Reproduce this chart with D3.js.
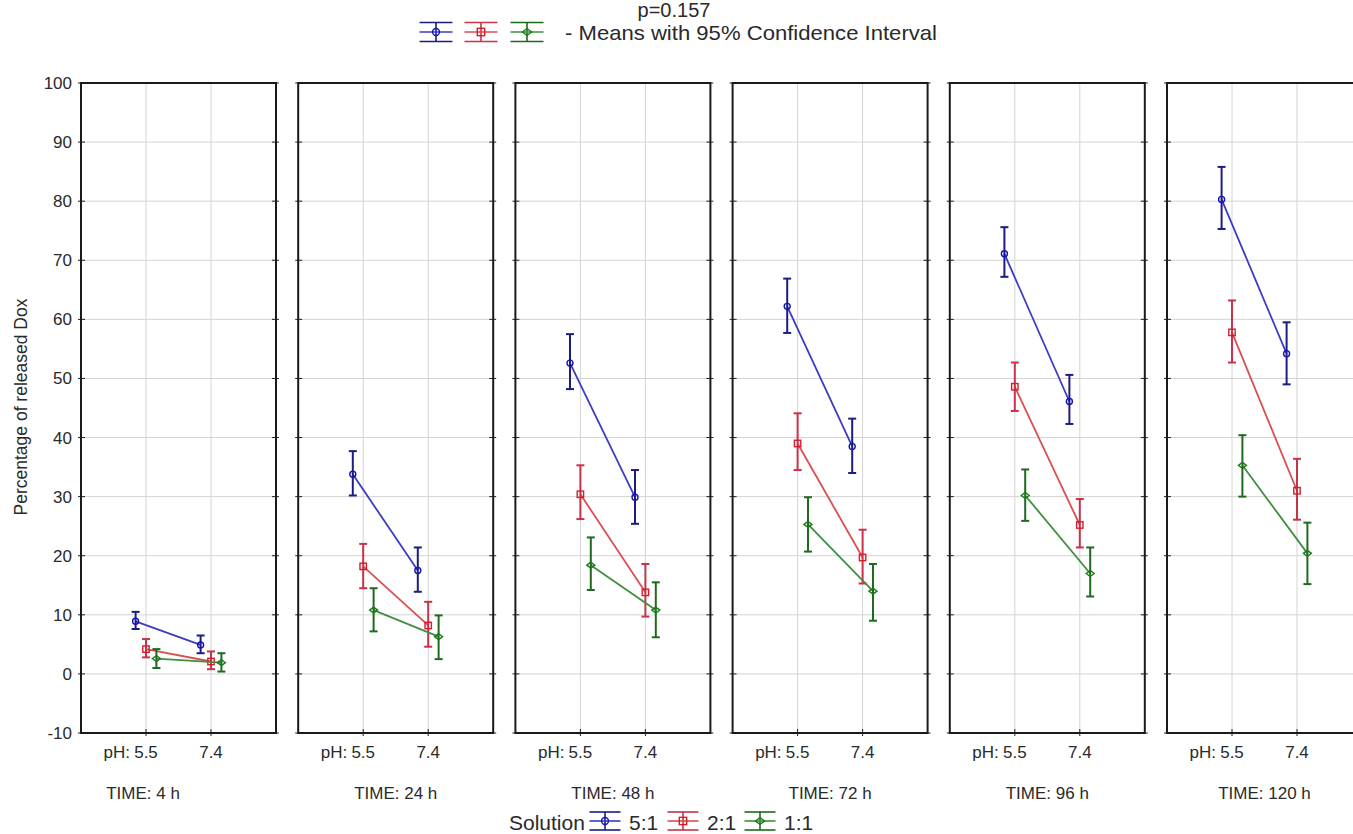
<!DOCTYPE html>
<html>
<head>
<meta charset="utf-8">
<script src="https://cdn.jsdelivr.net/npm/d3@7"></script>
<style>
  body { margin: 0; background: #fff; }
  svg { display: block; font-family: "Liberation Sans", Arial, sans-serif; }
</style>
</head>
<body>
<svg id="chart" width="1353" height="834"></svg>
<script>
// data
var times = ["4 h", "24 h", "48 h", "72 h", "96 h", "120 h"];
var phLevels = ["5.5", "7.4"];
var solutions = ["5:1", "2:1", "1:1"];
var yTicks = [-10, 0, 10, 20, 30, 40, 50, 60, 70, 80, 90, 100];

// [pH 5.5, pH 7.4] for each time
var mean51  = [[8.9, 4.9], [33.8, 17.5], [52.6, 29.9], [62.2, 38.5], [71.1, 46.1], [80.3, 54.2]];
var lower51 = [[7.6, 3.5], [30.2, 13.9], [48.2, 25.4], [57.7, 34.0], [67.2, 42.3], [75.3, 49.0]];
var upper51 = [[10.5, 6.5], [37.7, 21.4], [57.5, 34.5], [66.9, 43.2], [75.6, 50.6], [85.8, 59.5]];

var mean21  = [[4.2, 2.1], [18.2, 8.2], [30.4, 13.8], [39.0, 19.7], [48.6, 25.2], [57.8, 31.0]];
var lower21 = [[2.8, 0.8], [14.5, 4.6], [26.2, 9.7], [34.5, 15.3], [44.5, 21.4], [52.7, 26.1]];
var upper21 = [[5.9, 3.8], [22.0, 12.2], [35.3, 18.6], [44.1, 24.4], [52.7, 29.6], [63.2, 36.4]];

var mean11  = [[2.6, 1.9], [10.8, 6.3], [18.4, 10.8], [25.3, 14.0], [30.2, 17.0], [35.3, 20.4]];
var lower11 = [[1.0, 0.4], [7.2, 2.5], [14.2, 6.2], [20.7, 9.0], [25.9, 13.1], [30.0, 15.2]];
var upper11 = [[4.2, 3.5], [14.5, 9.9], [23.1, 15.5], [29.9, 18.6], [34.6, 21.4], [40.4, 25.6]];

var seriesData = [
  { name: solutions[0], mean: mean51, lo: lower51, hi: upper51 },
  { name: solutions[1], mean: mean21, lo: lower21, hi: upper21 },
  { name: solutions[2], mean: mean11, lo: lower11, hi: upper11 }
];

// styling
var lineColor = ["#3c3cc0", "#d85050", "#3f8f3f"];
var barColor  = ["#1c1c84", "#c8324a", "#1f6a1f"];
var markerColor = ["#1515b0", "#d81c2c", "#1a7a1a"];
var offsets = [-0.16, 0, 0.16];
var textColor = "#2a2a2a";

var svg = d3.select("#chart");
var panelW = 195;
var panelX = d3.scaleLinear().domain([0, 1]).range([81, 298.2]);
var y = d3.scaleLinear().domain([-10, 100]).range([733, 83]);

function drawMarker(g, k, cx, cy, size) {
  var s = size || 1;
  if (k === 0) {
    g.append("circle").attr("cx", cx).attr("cy", cy).attr("r", 3 * s)
      .attr("fill", "none").attr("stroke", markerColor[k]).attr("stroke-width", 1.4);
  } else if (k === 1) {
    g.append("rect").attr("x", cx - 3.2 * s).attr("y", cy - 3.2 * s)
      .attr("width", 6.4 * s).attr("height", 6.4 * s)
      .attr("fill", "none").attr("stroke", markerColor[k]).attr("stroke-width", 1.4);
  } else {
    var d = 4 * s;
    g.append("path")
      .attr("d", `M${cx - d},${cy}L${cx},${cy - d * 0.75}L${cx + d},${cy}L${cx},${cy + d * 0.75}Z`)
      .attr("fill", "none").attr("stroke", markerColor[k]).attr("stroke-width", 1.4);
  }
}

times.forEach(function(t, i) {
  var left = panelX(i);
  var x = d3.scaleLinear().domain([0, 3]).range([left, left + panelW]);
  var g = svg.append("g").attr("class", "panel");

  // grid
  g.selectAll(".hgrid").data(yTicks.slice(1, -1)).enter().append("line")
    .attr("x1", left).attr("x2", left + panelW)
    .attr("y1", function(d) { return y(d); }).attr("y2", function(d) { return y(d); })
    .attr("stroke", "#d4d4d4").attr("stroke-width", 1);
  g.selectAll(".vgrid").data([1, 2]).enter().append("line")
    .attr("x1", function(d) { return x(d); }).attr("x2", function(d) { return x(d); })
    .attr("y1", y(100)).attr("y2", y(-10))
    .attr("stroke", "#d4d4d4").attr("stroke-width", 1);

  // small ticks on the frame
  yTicks.forEach(function(v) {
    g.append("line").attr("x1", left - 3).attr("x2", left + 4).attr("y1", y(v)).attr("y2", y(v))
      .attr("stroke", "#222");
    g.append("line").attr("x1", left + panelW - 4).attr("x2", left + panelW + 3).attr("y1", y(v)).attr("y2", y(v))
      .attr("stroke", "#222");
  });
  [1, 2].forEach(function(v) {
    g.append("line").attr("x1", x(v)).attr("x2", x(v)).attr("y1", y(-10) + 3).attr("y2", y(-10) - 4)
      .attr("stroke", "#222");
  });

  // frame
  g.append("rect").attr("x", left).attr("y", y(100)).attr("width", panelW).attr("height", y(-10) - y(100))
    .attr("fill", "none").attr("stroke", "#1a1a1a").attr("stroke-width", 2);

  // series
  seriesData.forEach(function(s, k) {
    var pts = phLevels.map(function(p, j) {
      return { cx: x(j + 1 + offsets[k]), m: s.mean[i][j], lo: s.lo[i][j], hi: s.hi[i][j] };
    });
    g.append("path")
      .datum(pts)
      .attr("d", d3.line().x(function(d) { return d.cx; }).y(function(d) { return y(d.m); }))
      .attr("fill", "none").attr("stroke", lineColor[k]).attr("stroke-width", 1.8);
    pts.forEach(function(p) {
      g.append("line").attr("x1", p.cx).attr("x2", p.cx).attr("y1", y(p.lo)).attr("y2", y(p.hi))
        .attr("stroke", barColor[k]).attr("stroke-width", 2);
      [p.lo, p.hi].forEach(function(v) {
        g.append("line").attr("x1", p.cx - 4).attr("x2", p.cx + 4).attr("y1", y(v)).attr("y2", y(v))
          .attr("stroke", barColor[k]).attr("stroke-width", 2);
      });
      drawMarker(g, k, p.cx, y(p.m));
    });
  });

  // x labels
  phLevels.forEach(function(p, j) {
    g.append("text").attr("x", x(j + 1)).attr("y", 758).attr("text-anchor", "middle")
      .attr("font-size", 17).attr("fill", textColor).text(p);
  });
  g.append("text").attr("x", x(1) - 16).attr("y", 758).attr("text-anchor", "end")
    .attr("font-size", 17).attr("fill", textColor).text("pH:");
  var tx = i === 0 ? x(1) - 3 : x(1.5);
  g.append("text").attr("x", tx).attr("y", 799).attr("text-anchor", "middle")
    .attr("font-size", 17).attr("fill", textColor).text("TIME: " + t);
});

// y tick labels
svg.selectAll(".ylab").data(yTicks).enter().append("text")
  .attr("x", 72).attr("y", function(d) { return y(d) + 6; })
  .attr("text-anchor", "end").attr("font-size", 17).attr("fill", textColor)
  .text(function(d) { return d; });

svg.append("text")
  .attr("transform", "translate(27,407) rotate(-90)")
  .attr("text-anchor", "middle").attr("font-size", 17.5).attr("fill", textColor)
  .text("Percentage of released Dox");

// legend icon: caps, stem, middle bar, marker
function legendIcon(cx, cy, k, w, h) {
  var g = svg.append("g");
  g.append("line").attr("x1", cx - w / 2).attr("x2", cx + w / 2).attr("y1", cy - h / 2).attr("y2", cy - h / 2)
    .attr("stroke", barColor[k]).attr("stroke-width", 1.6);
  g.append("line").attr("x1", cx - w / 2).attr("x2", cx + w / 2).attr("y1", cy + h / 2).attr("y2", cy + h / 2)
    .attr("stroke", barColor[k]).attr("stroke-width", 1.6);
  g.append("line").attr("x1", cx).attr("x2", cx).attr("y1", cy - h / 2).attr("y2", cy + h / 2)
    .attr("stroke", barColor[k]).attr("stroke-width", 1.6);
  g.append("line").attr("x1", cx - w / 2).attr("x2", cx + w / 2).attr("y1", cy).attr("y2", cy)
    .attr("stroke", lineColor[k]).attr("stroke-width", 1.6);
  drawMarker(g, k, cx, cy, 1.15);
}

// title
svg.append("text").attr("x", 674).attr("y", 17).attr("text-anchor", "middle")
  .attr("font-size", 20).attr("fill", textColor).text("p=0.157");
[436, 481, 527].forEach(function(cx, k) { legendIcon(cx, 32, k, 33, 19); });
svg.append("text").attr("x", 565).attr("y", 40).attr("font-size", 21).attr("fill", textColor)
  .attr("textLength", 372).attr("lengthAdjust", "spacingAndGlyphs")
  .text("- Means with 95% Confidence Interval");

// bottom legend
svg.append("text").attr("x", 509).attr("y", 830).attr("font-size", 21).attr("fill", textColor).text("Solution");
var legX = [605, 683, 760];
solutions.forEach(function(s, k) {
  legendIcon(legX[k], 821, k, 31, 18);
  svg.append("text").attr("x", legX[k] + 24).attr("y", 830).attr("font-size", 21).attr("fill", textColor).text(s);
});
</script>
</body>
</html>
